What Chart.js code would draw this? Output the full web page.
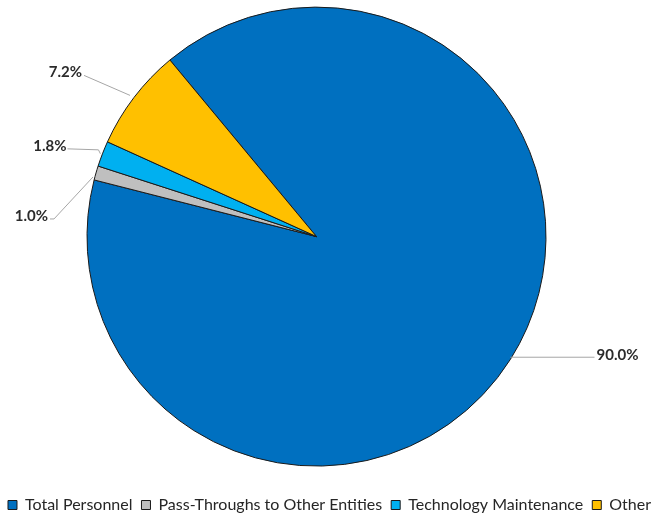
<!DOCTYPE html>
<html>
<head>
<meta charset="utf-8">
<script src="https://cdn.jsdelivr.net/npm/chart.js@4.4.1/dist/chart.umd.min.js"></script>
<style>
  html, body { margin: 0; padding: 0; background: #fff; }
  #wrap { width: 671px; height: 516px; position: relative; }
</style>
</head>
<body>
<div id="wrap"><canvas id="c"></canvas></div>
<script>
const categories = ["Total Personnel", "Pass-Throughs to Other Entities", "Technology Maintenance", "Other"];
const values = [90.0, 1.0, 1.8, 7.2];
const valueLabels = ["90.0%", "1.0%", "1.8%", "7.2%"];
const colors = ["#0070C0", "#BFBFBF", "#00B0F0", "#FFC000"];

// leader line geometry (offsets from the slice's outer midpoint)
const leaders = [
  { pts: [[0, -2], [84, -2]], text: [86, -4], align: "left" },
  { pts: [[-3, 4], [-42, 46], [-46, 46]], text: [-48, 43], align: "right" },
  { pts: [[-2, 0], [-4, -4], [-35, -5]], text: [-36, -8], align: "right" },
  { pts: [[-4, -2], [-50, -22]], text: [-52, -25], align: "right" }
];

const leaderPlugin = {
  id: "leaders",
  afterLayout(chart) {
    // pie sits a little left of the canvas centre, legend spans the full width
    const a = chart.chartArea;
    a.right -= 38;
    a.width = a.right - a.left;
    if (chart.legend) { chart.legend.left -= 6; chart.legend.right -= 6; }
  },
  afterDatasetsDraw(chart) {
    const ctx = chart.ctx;
    const meta = chart.getDatasetMeta(0);
    meta.data.forEach((arc, i) => {
      const p = arc.getProps(["x", "y", "startAngle", "endAngle", "outerRadius"], true);
      const mid = (p.startAngle + p.endAngle) / 2;
      const mx = p.x + Math.cos(mid) * p.outerRadius;
      const my = p.y + Math.sin(mid) * p.outerRadius;
      const L = leaders[i];
      ctx.save();
      ctx.strokeStyle = "#A6A6A6";
      ctx.lineWidth = 1;
      ctx.beginPath();
      L.pts.forEach((q, k) => {
        const x = mx + q[0], y = my + q[1];
        if (k === 0) ctx.moveTo(x, y); else ctx.lineTo(x, y);
      });
      ctx.stroke();
      ctx.fillStyle = "#2b2b2b";
      ctx.font = "bold 15px Lato";
      ctx.textAlign = L.align;
      ctx.textBaseline = "middle";
      ctx.fillText(valueLabels[i], mx + L.text[0], my + L.text[1]);
      ctx.restore();
    });
  }
};

new Chart(document.getElementById("c"), {
  type: "pie",
  data: {
    labels: categories,
    datasets: [{
      data: values,
      backgroundColor: colors,
      borderColor: "#1a1a1a",
      borderWidth: 1
    }]
  },
  options: {
    responsive: true,
    maintainAspectRatio: false,
    animation: false,
    rotation: -39.7,
    layout: { padding: { top: 6.6, left: 0, right: 0, bottom: -7 } },
    plugins: {
      tooltip: { enabled: false },
      legend: {
        position: "bottom",
        title: { display: true, text: "", padding: 3.5, font: { size: 12 } },
        labels: {
          boxWidth: 9,
          boxHeight: 9,
          padding: 9,
          color: "#262626",
          font: { family: "Lato", size: 16 }
        }
      }
    }
  },
  plugins: [leaderPlugin]
});
</script>
</body>
</html>
